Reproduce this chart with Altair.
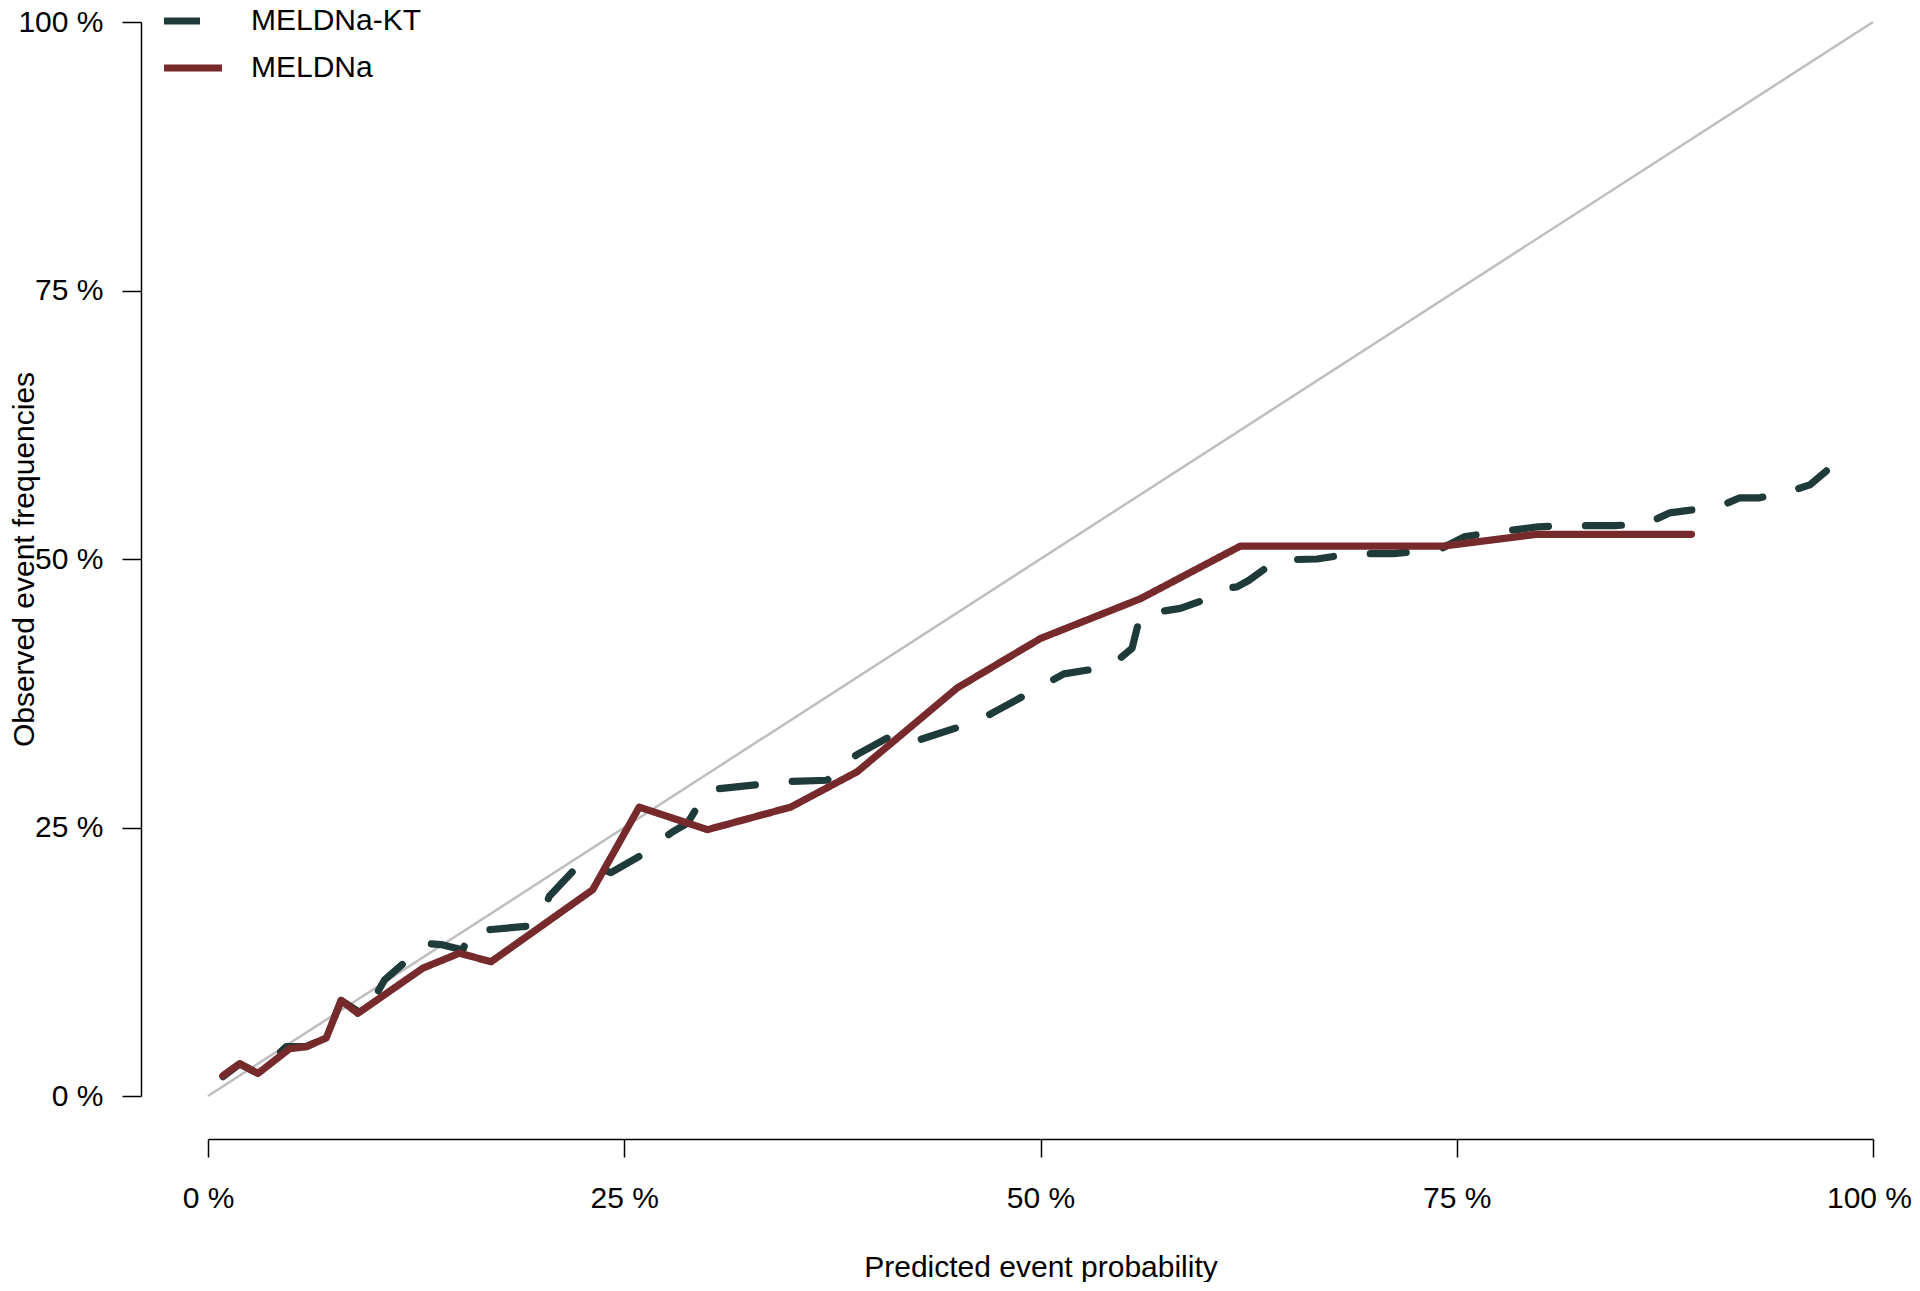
import altair as alt
import pandas as pd

# ---- data (percent) ----
series_names = ["MELDNa-KT", "MELDNa"]
series_colors = ["#1F3B39", "#772A2B"]
tick_values = [0, 25, 50, 75, 100]

meld_x = [0.9, 1.9, 3.0, 4.9, 5.9, 7.1, 8.0, 9.0, 12.9, 15.1, 17.0, 23.1, 25.9,
          30.0, 35.0, 39.0, 45.0, 50.0, 56.0, 62.0, 74.2, 79.8, 89.1]
meld_y = [1.9, 3.0, 2.1, 4.4, 4.6, 5.4, 8.9, 7.7, 11.9, 13.3, 12.5, 19.2, 26.9,
          24.8, 26.9, 30.2, 38.0, 42.6, 46.3, 51.2, 51.2, 52.3, 52.3]

kt_x = [0.9, 1.9, 3.0, 4.7, 5.9, 7.1, 8.0, 9.4, 10.6, 12.0, 13.1, 14.0, 15.3, 15.8,
        17.0, 19.1, 20.1, 20.5, 21.9, 23.1, 24.2, 26.0, 27.9, 28.8, 30.0, 30.6,
        35.0, 37.2, 38.0, 39.0, 41.0, 42.0, 43.2, 45.2, 46.2, 47.4, 51.4, 53.4,
        54.2, 55.5, 56.0, 58.4, 60.4, 61.2, 61.8, 62.5, 64.2, 66.6, 68.7, 71.2,
        73.2, 74.1, 75.5, 77.4, 79.9, 81.9, 84.5, 86.4, 87.8, 88.8, 90.8, 92.0,
        93.2, 95.2, 96.2, 97.2]
kt_y = [1.8, 3.0, 2.1, 4.6, 4.6, 5.4, 8.9, 7.5, 10.8, 12.7, 14.2, 14.1, 13.6, 15.5,
        15.5, 15.8, 17.0, 18.6, 20.9, 21.4, 20.8, 22.4, 24.6, 25.4, 28.5, 28.6,
        29.3, 29.4, 30.8, 31.8, 33.5, 32.8, 33.4, 34.4, 34.9, 35.9, 39.3, 39.8,
        40.0, 41.7, 44.8, 45.4, 46.5, 47.3, 47.4, 48.0, 49.9, 50.0, 50.5, 50.5,
        50.8, 51.0, 52.1, 52.5, 53.0, 53.1, 53.1, 53.3, 54.3, 54.5, 54.9, 55.7,
        55.7, 56.4, 56.9, 58.2]

diag_x = [0, 100]
diag_y = [0, 100]

kt_df = pd.DataFrame({"x": kt_x, "y": kt_y, "model": series_names[0],
                      "idx": list(range(len(kt_x)))})
meld_df = pd.DataFrame({"x": meld_x, "y": meld_y, "model": series_names[1],
                        "idx": list(range(len(meld_x)))})
diag_df = pd.DataFrame({"x": diag_x, "y": diag_y})

FONT = "Liberation Sans"
FS = 30
LW = 7.2

xscale = alt.Scale(domain=[0, 100], nice=False, zero=False)
yscale = alt.Scale(domain=[0, 100], nice=False, zero=False)

x_axis = alt.Axis(values=tick_values, labelExpr="datum.value + ' %'", offset=43,
                  tickSize=18, labelPadding=26, grid=False, labelFlush=False,
                  labelOffset={"condition": {"test": "datum.value == 100", "value": -4},
                               "value": 0},
                  title="Predicted event probability", titleY=137,
                  titleBaseline="alphabetic")
y_axis = alt.Axis(values=tick_values, labelExpr="datum.value + ' %'", offset=67,
                  tickSize=19, labelPadding=19, grid=False, labelFlush=False,
                  title="Observed event frequencies", titleX=-117,
                  titleBaseline="middle")

legend = alt.Legend(orient="none", legendX=-48, legendY=-21, title=None,
                    labelFontSize=FS, labelFont=FONT, labelColor="black",
                    labelLimit=0,
                    symbolType="stroke", symbolSize=3364, symbolStrokeWidth=LW,
                    clipHeight=40, rowPadding=7, labelOffset=25, padding=0)

color = alt.Color("model:N", scale=alt.Scale(domain=series_names, range=series_colors),
                  legend=legend)
dash = alt.StrokeDash("model:N",
                      scale=alt.Scale(domain=series_names, range=[[36, 37], [1, 0]]),
                      legend=legend)

diag = alt.Chart(diag_df).mark_line(color="#BEBEBE", strokeWidth=2.5).encode(
    x=alt.X("x:Q", scale=xscale, axis=x_axis),
    y=alt.Y("y:Q", scale=yscale, axis=y_axis),
)

kt = alt.Chart(kt_df).mark_line(strokeWidth=LW, strokeCap="round", strokeJoin="round").encode(
    x=alt.X("x:Q", scale=xscale, axis=x_axis),
    y=alt.Y("y:Q", scale=yscale, axis=y_axis),
    color=color, strokeDash=dash, order="idx:Q",
)

meld = alt.Chart(meld_df).mark_line(strokeWidth=LW, strokeCap="round", strokeJoin="round").encode(
    x=alt.X("x:Q", scale=xscale, axis=x_axis),
    y=alt.Y("y:Q", scale=yscale, axis=y_axis),
    color=color, strokeDash=dash, order="idx:Q",
)

chart = alt.layer(diag, kt, meld).properties(
    width=1665, height=1074,
    autosize=alt.AutoSizeParams(type="none"),
    padding={"left": 200, "top": 14, "right": 39, "bottom": 186},
    background="white",
).configure_view(stroke=None).configure_axis(
    labelFont=FONT, labelFontSize=FS, labelColor="black",
    titleFont=FONT, titleFontSize=FS, titleColor="black", titleFontWeight="normal",
    domainColor="black", domainWidth=1.5, tickColor="black", tickWidth=1.5,
)

chart.save("out.html", embed_options={"renderer": "svg", "actions": False})
